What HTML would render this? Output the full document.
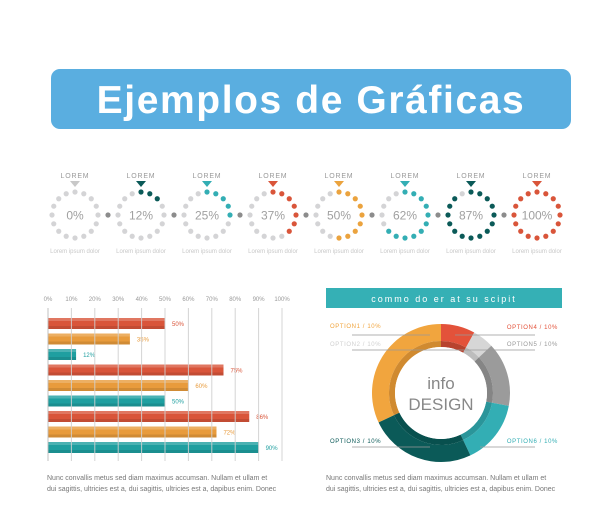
<!DOCTYPE html>
<html><head><meta charset="utf-8"><style>
body{margin:0;width:612px;height:520px;background:#fff;overflow:hidden;font-family:"Liberation Sans",sans-serif;}
svg{position:absolute;left:0;top:0}
</style></head><body>
<svg id="s" width="612" height="520">
<rect x="51" y="69" width="520" height="60" rx="9" fill="#5aaee0"/>
<text x="311" y="113" text-anchor="middle" font-size="39" font-weight="bold" fill="#fff" letter-spacing="1.6">Ejemplos de Gráficas</text>
<g id="dials"></g>
<g id="bars"></g>
<g id="donut"></g>
</svg>
<script>
const NS='http://www.w3.org/2000/svg';
const dialValues=[0,12,25,37,50,62,87,100];
const dialColors=['#c8c8c8','#0b5a58','#33aeb4','#d9553a','#eba33e','#33aeb4','#0b5a58','#d9553a'];
const barValues=[50,35,12,75,60,50,86,72,90];
const barColors=['#d9553a','#e89b3c','#1f9fa0','#d9553a','#e89b3c','#1f9fa0','#d9553a','#e89b3c','#1f9fa0'];
const barLabels=['50%','35%','12%','75%','60%','50%','86%','72%','90%'];
const tickLabels=['0%','10%','20%','30%','40%','50%','60%','70%','80%','90%','100%'];
const donutValues=[8,5,15,15,25,32];
const donutColors=['#e3523a','#d6d6d6','#9b9b9b','#33aeb4','#0b5a58','#f1a53e'];
const donutInner=['#b8432e','#bdbdbd','#858585','#2a959a','#08504e','#d08a30'];
function el(t,a,p,txt){const e=document.createElementNS(NS,t);for(const k in a)e.setAttribute(k,a[k]);if(txt!==undefined)e.textContent=txt;p.appendChild(e);return e;}
// dials
const D=document.getElementById('dials');
dialValues.forEach((v,i)=>{
 const cx=75+i*66,cy=215;
 const g=el('g',{},D);
 
 
 el('text',{x:cx,y:178,'text-anchor':'middle','font-size':7,fill:'#999','letter-spacing':'0.8'},g,'LOREM');
 el('path',{d:`M${cx-5} 181 L${cx+5} 181 L${cx} 187 Z`,fill:dialColors[i]},g);
 const filled=v<=0?0:Math.min(16,Math.round(v/100*16)+1);
 for(let k=0;k<16;k++){const a=k/16*2*Math.PI;
  el('circle',{cx:cx+23*Math.sin(a),cy:cy-23*Math.cos(a),r:2.6,fill:k<filled?dialColors[i]:'#d4d4d6'},g);}
 el('text',{x:cx,y:cy+4.5,'text-anchor':'middle','font-size':12,fill:'#a0a0a0'},g,v+'%');
 el('text',{x:cx,y:253,'text-anchor':'middle','font-size':6,fill:'#c8c8c8'},g,'Lorem ipsum dolor');
 if(i<7)el('circle',{cx:cx+33,cy:cy,r:2.6,fill:'#8c8c8c'},D);
});
// bars
const B=document.getElementById('bars');
const x0=48,sc=2.34;const xs=v=>x0+v*sc;
tickLabels.forEach((t,i)=>{el('text',{x:xs(i*10),y:301,'text-anchor':'middle','font-size':6,fill:'#999'},B,t);});
barValues.forEach((v,i)=>{const y=318+i*15.5;
 const r=el('rect',{x:x0,y:y,width:xs(v)-x0,height:11,fill:barColors[i]},B);
 
 
 el('rect',{x:x0,y:y,width:xs(v)-x0,height:3,fill:'#fff',opacity:0.2},B);
 el('rect',{x:x0,y:y+8,width:xs(v)-x0,height:3,fill:'#000',opacity:0.1},B);
 el('text',{x:xs(v)+7,y:y+8,'font-size':6,fill:barColors[i]},B,barLabels[i]);
});
tickLabels.forEach((t,i)=>{el('line',{x1:xs(i*10),x2:xs(i*10),y1:308,y2:461,stroke:i==0?'#bbb':'#d0d0d0','stroke-width':1,opacity:0.9},B);});
el('text',{x:47,y:480,'font-size':7,fill:'#777'},B,'Nunc convallis metus sed diam maximus accumsan. Nullam et ullam et');
el('text',{x:47,y:491,'font-size':7,fill:'#777'},B,'dui sagittis, ultricies est a, dui sagittis, ultricies est a, dapibus enim. Donec');
// donut
const G=document.getElementById('donut');
el('rect',{x:326,y:288,width:236,height:20,fill:'#35b0b5'},G);
el('text',{x:444,y:302,'text-anchor':'middle','font-size':9,fill:'#fff','letter-spacing':'2'},G,'commo do er at su scipit');
const dcx=441,dcy=393;
function arc(r1,r2,a1,a2){const p=(r,a)=>[dcx+r*Math.sin(a),dcy-r*Math.cos(a)];const l=(a2-a1)>Math.PI?1:0;
 const [x1,y1]=p(r2,a1),[x2,y2]=p(r2,a2),[x3,y3]=p(r1,a2),[x4,y4]=p(r1,a1);
 return `M${x1} ${y1} A${r2} ${r2} 0 ${l} 1 ${x2} ${y2} L${x3} ${y3} A${r1} ${r1} 0 ${l} 0 ${x4} ${y4}Z`;}
const tot=donutValues.reduce((a,b)=>a+b,0);let acc=0;
donutValues.forEach((v,i)=>{const a1=acc/tot*2*Math.PI;acc+=v;const a2=acc/tot*2*Math.PI;
 const p=el('path',{d:arc(52,69,a1,a2),fill:donutColors[i]},G);
 
 
 el('path',{d:arc(46,52,a1,a2),fill:donutInner[i]},G);
});
el('circle',{cx:dcx,cy:dcy,r:46,fill:'#fff'},G);
el('text',{x:dcx,y:389,'text-anchor':'middle','font-size':17,fill:'#888'},G,'info');
el('text',{x:dcx,y:410,'text-anchor':'middle','font-size':17,fill:'#888'},G,'DESIGN');
const opts=[['OPTION1 / 10%',330,328,'#f1a53e','start',352,430,335],['OPTION2 / 10%',330,346,'#d0d0d0','start',352,470,350],['OPTION3 / 10%',330,443,'#0b5a58','start',352,430,447],
['OPTION4 / 10%',558,329,'#e3523a','end',455,535,335],['OPTION5 / 10%',558,346,'#999','end',470,535,350],['OPTION6 / 10%',558,443,'#33aeb4','end',480,535,447]];
opts.forEach(o=>{el('line',{x1:o[5],x2:o[6],y1:o[7],y2:o[7],stroke:'#999','stroke-width':0.8},G);
 el('text',{x:o[1],y:o[2],'text-anchor':o[4],'font-size':6,fill:o[3],'letter-spacing':'0.6'},G,o[0]);});
el('text',{x:326,y:480,'font-size':7,fill:'#777'},G,'Nunc convallis metus sed diam maximus accumsan. Nullam et ullam et');
el('text',{x:326,y:491,'font-size':7,fill:'#777'},G,'dui sagittis, ultricies est a, dui sagittis, ultricies est a, dapibus enim. Donec');
</script>
</body></html>
